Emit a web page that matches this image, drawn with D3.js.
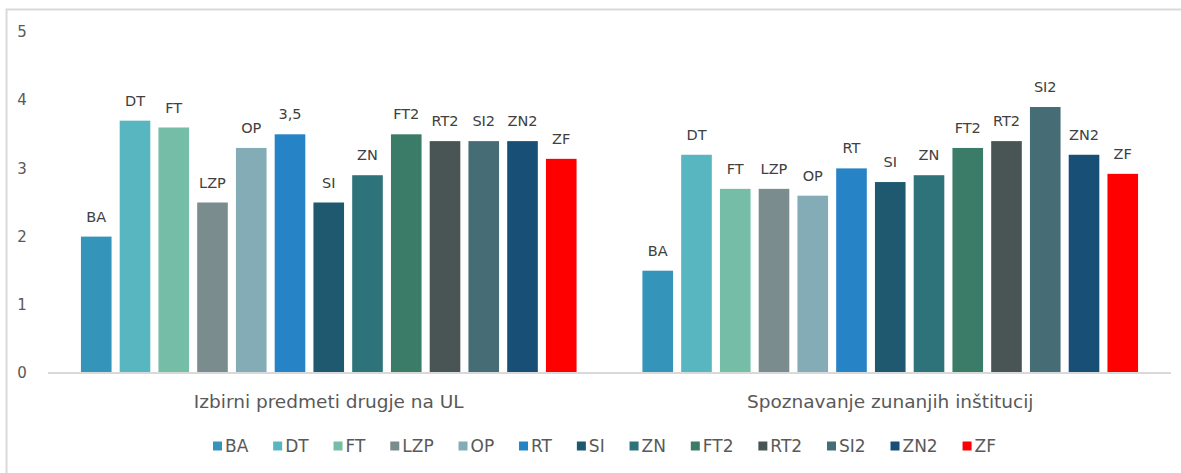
<!DOCTYPE html>
<html lang="sl">
<head>
<meta charset="utf-8">
<title>Bar chart</title>
<style>
  body { margin: 0; background: #fff; }
  text { font-family: "DejaVu Sans", "Noto Sans", sans-serif; }
  .tick-label { fill: #595959; font-size: 15px; }
  .cat-label { fill: #595959; font-size: 18.5px; }
  .data-label { fill: #404040; font-size: 14.5px; }
  .legend text { fill: #595959; font-size: 17px; }
</style>
</head>
<body>
<div id="chart"></div>
<script src="https://d3js.org/d3.v7.min.js"></script>
<script>
  // categories
  var categories = ["Izbirni predmeti drugje na UL", "Spoznavanje zunanjih inštitucij"];
  // series
  var series = ["BA", "DT", "FT", "LZP", "OP", "RT", "SI", "ZN", "FT2", "RT2", "SI2", "ZN2", "ZF"];
  var colors = ["#3494BA", "#58B6C0", "#75BDA7", "#7A8C8E", "#84ACB6", "#2683C6",
                "#1F5970", "#2E737A", "#3B7C68", "#495555", "#466C76", "#174F77", "#FF0000"];
  // values per category (same order as series)
  var izbirniValues = [2.0, 3.7, 3.6, 2.5, 3.3, 3.5, 2.5, 2.9, 3.5, 3.4, 3.4, 3.4, 3.14];
  var spoznavanjeValues = [1.5, 3.2, 2.7, 2.7, 2.6, 3.0, 2.8, 2.9, 3.3, 3.4, 3.9, 3.2, 2.92];
  // data label text (one bar shows its value instead of its name)
  var izbirniLabels = ["BA", "DT", "FT", "LZP", "OP", "3,5", "SI", "ZN", "FT2", "RT2", "SI2", "ZN2", "ZF"];
  var spoznavanjeLabels = series.slice();
  var yTicks = [0, 1, 2, 3, 4, 5];

  var valuesByCat = [izbirniValues, spoznavanjeValues];
  var labelsByCat = [izbirniLabels, spoznavanjeLabels];

  var W = 1181, H = 473;
  var svg = d3.select("#chart").append("svg")
      .attr("width", W).attr("height", H);

  // chart frame
  svg.append("rect")
      .attr("x", 6.5).attr("y", 9.5)
      .attr("width", W + 20).attr("height", H + 20)
      .attr("fill", "#fff")
      .attr("stroke", "#d9d9d9").attr("stroke-width", 2);

  var x0 = d3.scaleBand().domain(categories).range([48, 1171]);
  var x1 = d3.scaleBand().domain(series).range([0, x0.bandwidth()])
      .paddingInner(0.21).paddingOuter(0.85);
  var y = d3.scaleLinear().domain([0, 5]).range([373, 32]);

  // y tick labels
  svg.selectAll(".tick-label").data(yTicks).enter().append("text")
      .attr("class", "tick-label")
      .attr("x", 22).attr("y", function(d) { return y(d); })
      .attr("dy", "0.35em")
      .attr("text-anchor", "middle")
      .text(function(d) { return d; });

  var groups = svg.selectAll(".group").data(categories).enter().append("g")
      .attr("class", "group")
      .attr("transform", function(d) { return "translate(" + x0(d) + ",0)"; });

  function barData(d, i) {
    return series.map(function(s, j) {
      return {s: s, v: valuesByCat[i][j], label: labelsByCat[i][j], c: colors[j]};
    });
  }

  groups.selectAll("rect").data(barData)
      .enter().append("rect")
      .attr("x", function(d) { return x1(d.s); })
      .attr("y", function(d) { return y(d.v); })
      .attr("width", x1.bandwidth())
      .attr("height", function(d) { return y(0) - y(d.v); })
      .attr("fill", function(d) { return d.c; });

  groups.selectAll(".data-label").data(barData)
      .enter().append("text")
      .attr("class", "data-label")
      .attr("x", function(d) { return x1(d.s) + x1.bandwidth() / 2; })
      .attr("y", function(d) { return y(d.v) - 20; })
      .attr("dy", "0.35em")
      .attr("text-anchor", "middle")
      .text(function(d) { return d.label; });

  // baseline
  svg.append("line")
      .attr("x1", 48).attr("x2", 1171)
      .attr("y1", y(0)).attr("y2", y(0))
      .attr("stroke", "#d9d9d9").attr("stroke-width", 2);

  // category labels
  svg.selectAll(".cat-label").data(categories).enter().append("text")
      .attr("class", "cat-label")
      .attr("x", function(d) { return x0(d) + x0.bandwidth() / 2; })
      .attr("y", 402).attr("dy", "0.35em")
      .attr("text-anchor", "middle")
      .text(function(d) { return d; });

  // legend, laid out from the text widths and spread over the legend width
  var legendLeft = 213, legendRight = 996;
  var legend = svg.append("g").attr("class", "legend");
  var items = legend.selectAll("g").data(series).enter().append("g");
  items.append("rect")
      .attr("width", 9).attr("height", 9)
      .attr("y", -4.5)
      .attr("fill", function(d, i) { return colors[i]; });
  items.append("text")
      .attr("x", 12).attr("dy", "0.35em")
      .text(function(d) { return d; });

  var widths = [];
  items.each(function() {
    widths.push(12 + d3.select(this).select("text").node().getComputedTextLength());
  });
  var gap = (legendRight - legendLeft - d3.sum(widths)) / (series.length - 1);
  var pos = 0;
  items.attr("transform", function(d, i) {
    var t = "translate(" + pos + ",0)";
    pos += widths[i] + gap;
    return t;
  });
  legend.attr("transform", "translate(" + legendLeft + ",446)");
</script>
</body>
</html>
